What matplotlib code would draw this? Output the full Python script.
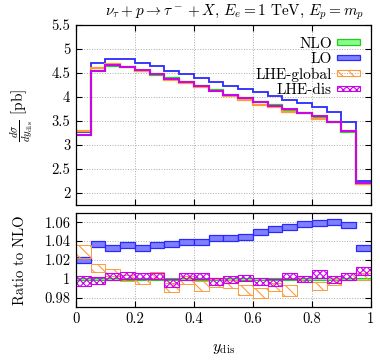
import numpy as np
import matplotlib
matplotlib.use("Agg")
import matplotlib.pyplot as plt
from matplotlib.patches import Patch
from matplotlib.ticker import FormatStrFormatter, MultipleLocator

plt.rcParams['font.family'] = 'cmr10'
plt.rcParams['mathtext.fontset'] = 'cm'
plt.rcParams['axes.formatter.use_mathtext'] = True
plt.rcParams['hatch.linewidth'] = 0.8

# bins in y_dis
bin_left = np.round(np.arange(0, 1.0, 0.05), 2)
bin_w = 0.05
edges = np.append(bin_left, 1.0)

# d sigma / d y_dis [pb]
nlo = [3.21, 4.55, 4.65, 4.62, 4.55, 4.47, 4.39, 4.31, 4.23, 4.14,
       4.05, 3.98, 3.90, 3.83, 3.74, 3.67, 3.58, 3.48, 3.28, 2.19]
lo = [3.27, 4.72, 4.80, 4.79, 4.70, 4.64, 4.55, 4.48, 4.39, 4.31,
      4.23, 4.16, 4.10, 4.03, 3.94, 3.88, 3.79, 3.69, 3.47, 2.25]
lhe_global = [3.30, 4.60, 4.68, 4.62, 4.54, 4.49, 4.35, 4.30, 4.20, 4.12,
              4.03, 3.93, 3.84, 3.80, 3.69, 3.67, 3.55, 3.47, 3.29, 2.19]
lhe_dis = [3.20, 4.54, 4.66, 4.63, 4.56, 4.48, 4.37, 4.32, 4.24, 4.13,
           4.05, 3.98, 3.89, 3.81, 3.75, 3.67, 3.60, 3.48, 3.29, 2.21]

# ratios to NLO (central value, half width of band)
r_nlo_err = 0.0012
r_lo = [1.020, 1.037, 1.033, 1.036, 1.033, 1.036, 1.037, 1.039, 1.039, 1.043,
        1.043, 1.0445, 1.050, 1.053, 1.055, 1.058, 1.059, 1.060, 1.057, 1.033]
r_lo_err = [0.0035, 0.003, 0.003, 0.003, 0.003, 0.003, 0.003, 0.003, 0.003, 0.003,
            0.003, 0.003, 0.003, 0.003, 0.003, 0.003, 0.003, 0.003, 0.003, 0.003]
r_glob = [1.029, 1.0115, 1.0065, 1.0005, 0.997, 1.004, 0.991, 0.9985, 0.9925, 0.9957,
          0.9943, 0.988, 0.985, 0.991, 0.9875, 0.9996, 0.9925, 0.997, 1.0025, 1.002]
r_glob_err = [0.0066, 0.0045, 0.0036, 0.003, 0.003, 0.0035, 0.005, 0.004, 0.005, 0.0043,
              0.0045, 0.0054, 0.0056, 0.0045, 0.0054, 0.0032, 0.0045, 0.0035, 0.004, 0.0036]
r_dis = [0.998, 0.9985, 1.002, 1.003, 1.003, 1.003, 0.9957, 1.002, 1.003, 0.997,
         0.999, 1.001, 0.997, 0.9957, 1.003, 0.9996, 1.005, 0.999, 1.0025, 1.008]
r_dis_err = [0.0054, 0.0036, 0.0036, 0.0037, 0.0036, 0.0036, 0.004, 0.0036, 0.0036, 0.0036,
             0.0034, 0.0034, 0.0036, 0.0036, 0.0036, 0.0032, 0.0045, 0.0036, 0.0034, 0.0045]

green, green_f = '#22cc22', '#88ff88'
blue, blue_f = '#2a2aff', '#8080ff'
orange = '#ff9a3c'
magenta = '#cc00ee'

fig = plt.figure(figsize=(3.8, 3.62), dpi=100)
ax1 = fig.add_axes([0.2, 0.4337, 0.776, 0.497])
ax2 = fig.add_axes([0.2, 0.152, 0.776, 0.26])

# top panel
ax1.stairs(nlo, edges, baseline=None, color=green, lw=1.6)
ax1.stairs(lo, edges, baseline=None, color=blue, lw=1.3)
ax1.stairs(lhe_global, edges, baseline=None, color=orange, lw=1.6)
ax1.stairs(lhe_dis, edges, baseline=None, color=magenta, lw=1.4)

# ratio panel
def band(ax, c, e, **kw):
    c = np.array(c)
    e = np.array(e) * np.ones_like(c)
    ax.bar(bin_left, 2 * e, bottom=c - e, width=bin_w, align='edge', **kw)

band(ax2, np.ones(20), r_nlo_err, facecolor=green_f, edgecolor=green, lw=0.8)
band(ax2, r_lo, r_lo_err, facecolor=blue_f, edgecolor=blue, lw=0.9)
band(ax2, r_glob, r_glob_err, facecolor='none', edgecolor=orange, hatch='\\\\\\', lw=0.7)
band(ax2, r_dis, r_dis_err, facecolor='none', edgecolor=magenta, hatch='xxxxx', lw=0.8)

for ax in (ax1, ax2):
    ax.set_xlim(0, 1)
    ax.xaxis.set_major_locator(MultipleLocator(0.2))
    ax.xaxis.set_major_formatter(FormatStrFormatter('%g'))
    ax.yaxis.set_major_formatter(FormatStrFormatter('%g'))
    ax.tick_params(direction='in', top=True, right=True, length=4, width=0.8,
                   labelsize=10.5, pad=4)
    ax.grid(True, linestyle=':', color='#aaaaaa', lw=0.7)
    ax.set_axisbelow(True)
    for s in ax.spines.values():
        s.set_linewidth(0.9)

ax1.set_ylim(1.75, 5.5)
ax1.yaxis.set_major_locator(MultipleLocator(0.5))
ax1.tick_params(labelbottom=False)
ax2.set_ylim(0.97, 1.07)
ax2.yaxis.set_major_locator(MultipleLocator(0.02))

ax1.set_ylabel(r'$\frac{d\sigma}{dy_{\rm dis}}$ [pb]', fontsize=11)
ax1.yaxis.set_label_coords(-0.14, 0.5)
ax2.set_ylabel('Ratio to NLO', fontsize=10.5)
ax2.yaxis.set_label_coords(-0.165, 0.5)
ax2.set_xlabel(r'$y_{\rm dis}$', fontsize=11.5)
ax2.xaxis.set_label_coords(0.5, -0.37)

fig.text(0.618, 0.966,
         r'$\nu_\tau + p \rightarrow \tau^- + X,\, E_e = 1\ \mathrm{TeV},\, E_p = m_p$',
         ha='center', va='center', fontsize=11)

handles = [
    Patch(facecolor=green_f, edgecolor=green, lw=0.9),
    Patch(facecolor=blue_f, edgecolor=blue, lw=0.9),
    Patch(facecolor='none', edgecolor=orange, hatch='\\\\\\', lw=0.8),
    Patch(facecolor='none', edgecolor=magenta, hatch='xxxxx', lw=0.8),
]
ax1.legend(handles, ['NLO', 'LO', 'LHE-global', 'LHE-dis'], loc='upper right',
           frameon=False, markerfirst=False, fontsize=11, handlelength=1.5,
           handleheight=0.2, labelspacing=0.1, handletextpad=0.35,
           borderaxespad=0.2, bbox_to_anchor=(0.995, 0.985))

fig.savefig('out.png', dpi=100)
